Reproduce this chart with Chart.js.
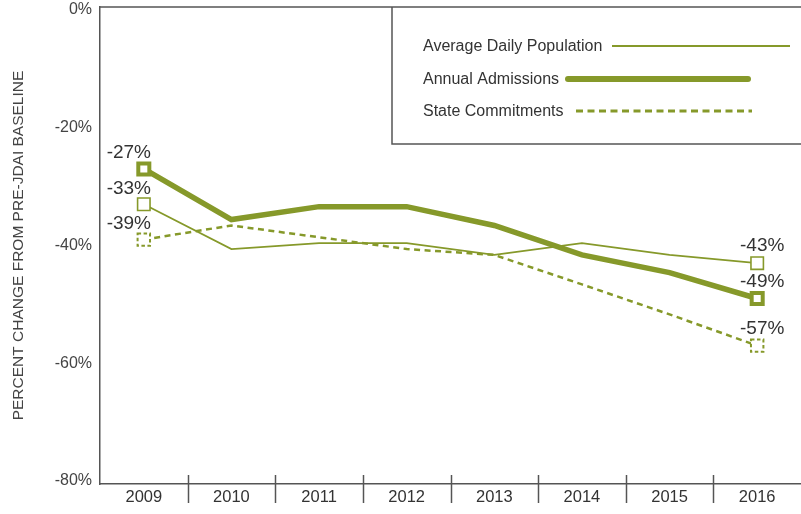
<!DOCTYPE html>
<html>
<head>
<meta charset="utf-8">
<script src="https://cdn.jsdelivr.net/npm/chart.js@4"></script>
<style>
  html, body { margin: 0; padding: 0; background: #fff; }
  #wrap { width: 801px; height: 514px; position: relative; }
</style>
</head>
<body>
<div id="wrap"><canvas id="trendChart"></canvas></div>
<script>
const years = ['2009', '2010', '2011', '2012', '2013', '2014', '2015', '2016'];
const avgDailyPopulation = [-33, -40.6, -39.6, -39.6, -41.6, -39.6, -41.6, -43];
const annualAdmissions = [-27, -35.6, -33.4, -33.4, -36.6, -41.6, -44.6, -49];
const stateCommitments = [-39, -36.6, -38.6, -40.6, -41.6, -46.6, -51.7, -57];
const yTicks = [0, -20, -40, -60, -80];
const seriesNames = ['Average Daily Population', 'Annual Admissions', 'State Commitments'];

const green = '#86992a';
const axisGray = '#555';
const fontFamily = '"Liberation Sans", Arial, sans-serif';

function endsOnly(r) {
    return function (ctx) {
        const last = ctx.dataset.data.length - 1;
        return (ctx.dataIndex === 0 || ctx.dataIndex === last) ? r : 0;
    };
}

// separators, top rule, legend box and end labels
const decorPlugin = {
    id: 'decor',
    beforeDatasetDraw(chart, args) {
        if (args.index === 2) chart.ctx.setLineDash([3.5, 2.5]);
    },
    afterDatasetDraw(chart, args) {
        if (args.index === 2) chart.ctx.setLineDash([]);
    },
    afterDraw(chart) {
        const ctx = chart.ctx;
        const area = chart.chartArea;
        const xs = chart.scales.x;
        ctx.save();
        ctx.strokeStyle = axisGray;
        ctx.lineWidth = 1.5;

        // top rule
        ctx.beginPath();
        ctx.moveTo(area.left, area.top);
        ctx.lineTo(chart.width, area.top);
        ctx.stroke();

        // category separators
        for (let i = 1; i < years.length; i++) {
            const x = Math.round(xs.getPixelForValue(i - 0.5)) + 0.5;
            ctx.beginPath();
            ctx.moveTo(x, area.bottom - 9);
            ctx.lineTo(x, area.bottom + 19);
            ctx.stroke();
        }

        // legend box
        const boxLeft = area.left + 292;
        const boxBottom = area.top + 137;
        ctx.beginPath();
        ctx.moveTo(boxLeft, area.top);
        ctx.lineTo(boxLeft, boxBottom);
        ctx.lineTo(chart.width, boxBottom);
        ctx.stroke();

        ctx.font = '16px ' + fontFamily;
        ctx.fillStyle = '#333';
        ctx.textBaseline = 'middle';
        ctx.textAlign = 'left';
        const textX = boxLeft + 31;
        const rows = [
            { y: area.top + 39, from: 220, to: 398, width: 2, dash: [], cap: 'butt' },
            { y: area.top + 72, from: 176, to: 356, width: 6, dash: [], cap: 'round' },
            { y: area.top + 104, from: 184, to: 360, width: 3, dash: [7, 4.5], cap: 'butt' }
        ];
        rows.forEach((r, i) => {
            ctx.fillText(seriesNames[i], textX, r.y + 1);
            ctx.beginPath();
            ctx.strokeStyle = green;
            ctx.lineWidth = r.width;
            ctx.lineCap = r.cap;
            ctx.setLineDash(r.dash);
            ctx.moveTo(boxLeft + r.from, r.y);
            ctx.lineTo(boxLeft + r.to, r.y);
            ctx.stroke();
            ctx.setLineDash([]);
        });

        // end labels
        ctx.font = '19px ' + fontFamily;
        ctx.fillStyle = '#333';
        ctx.textAlign = 'center';
        chart.data.datasets.forEach((ds, i) => {
            const meta = chart.getDatasetMeta(i);
            const last = ds.data.length - 1;
            const p0 = meta.data[0];
            const p1 = meta.data[last];
            ctx.fillText(Math.round(ds.data[0]) + '%', p0.x - 15, p0.y - 16);
            ctx.fillText(Math.round(ds.data[last]) + '%', p1.x + 5, p1.y - 17);
        });
        ctx.restore();
    }
};

const trendChart = new Chart(document.getElementById('trendChart').getContext('2d'), {
    type: 'line',
    data: {
        labels: years,
        datasets: [{
            label: seriesNames[0],
            data: avgDailyPopulation,
            borderColor: green,
            borderWidth: 1.8,
            pointStyle: 'rect',
            pointRadius: endsOnly(8.8),
            pointBorderWidth: 1.6,
            pointBackgroundColor: '#fff',
            pointBorderColor: green
        }, {
            label: seriesNames[1],
            data: annualAdmissions,
            borderColor: green,
            borderWidth: 5.5,
            pointStyle: 'rect',
            pointRadius: endsOnly(7.8),
            pointBorderWidth: 4,
            pointBackgroundColor: '#fff',
            pointBorderColor: green
        }, {
            label: seriesNames[2],
            data: stateCommitments,
            borderColor: green,
            borderWidth: 2.5,
            borderDash: [6, 4.5],
            pointStyle: 'rect',
            pointRadius: endsOnly(8.8),
            pointBorderWidth: 2,
            pointBackgroundColor: '#fff',
            pointBorderColor: green
        }]
    },
    options: {
        responsive: true,
        maintainAspectRatio: false,
        animation: false,
        layout: { autoPadding: false, padding: { top: 7, right: 0, bottom: 0, left: 0 } },
        plugins: {
            legend: { display: false },
            tooltip: { enabled: false }
        },
        scales: {
            x: {
                offset: true,
                grid: { display: false, drawTicks: false },
                border: { display: true, color: axisGray, width: 1.5 },
                ticks: { color: '#333', font: { family: fontFamily, size: 16.5 }, padding: 4, maxRotation: 0 },
                afterFit: function (s) { s.height = 30; s.paddingLeft = 0; s.paddingRight = 0; }
            },
            y: {
                min: -80.5,
                max: 0.5,
                afterBuildTicks: function (s) { s.ticks = yTicks.map(v => ({ value: v })); },
                grid: { display: false, drawTicks: false },
                border: { display: true, color: axisGray, width: 1.5 },
                ticks: {
                    color: '#444',
                    font: { family: fontFamily, size: 16 },
                    padding: 8,
                    callback: v => v + '%'
                },
                title: {
                    display: true,
                    text: 'PERCENT CHANGE FROM PRE-JDAI BASELINE',
                    color: '#444',
                    font: { family: fontFamily, size: 15.5 },
                    padding: { top: 9, bottom: 0 }
                },
                afterFit: function (s) { s.width = 100; s.paddingTop = 0; s.paddingBottom = 0; }
            }
        }
    },
    plugins: [decorPlugin]
});
</script>
</body>
</html>
